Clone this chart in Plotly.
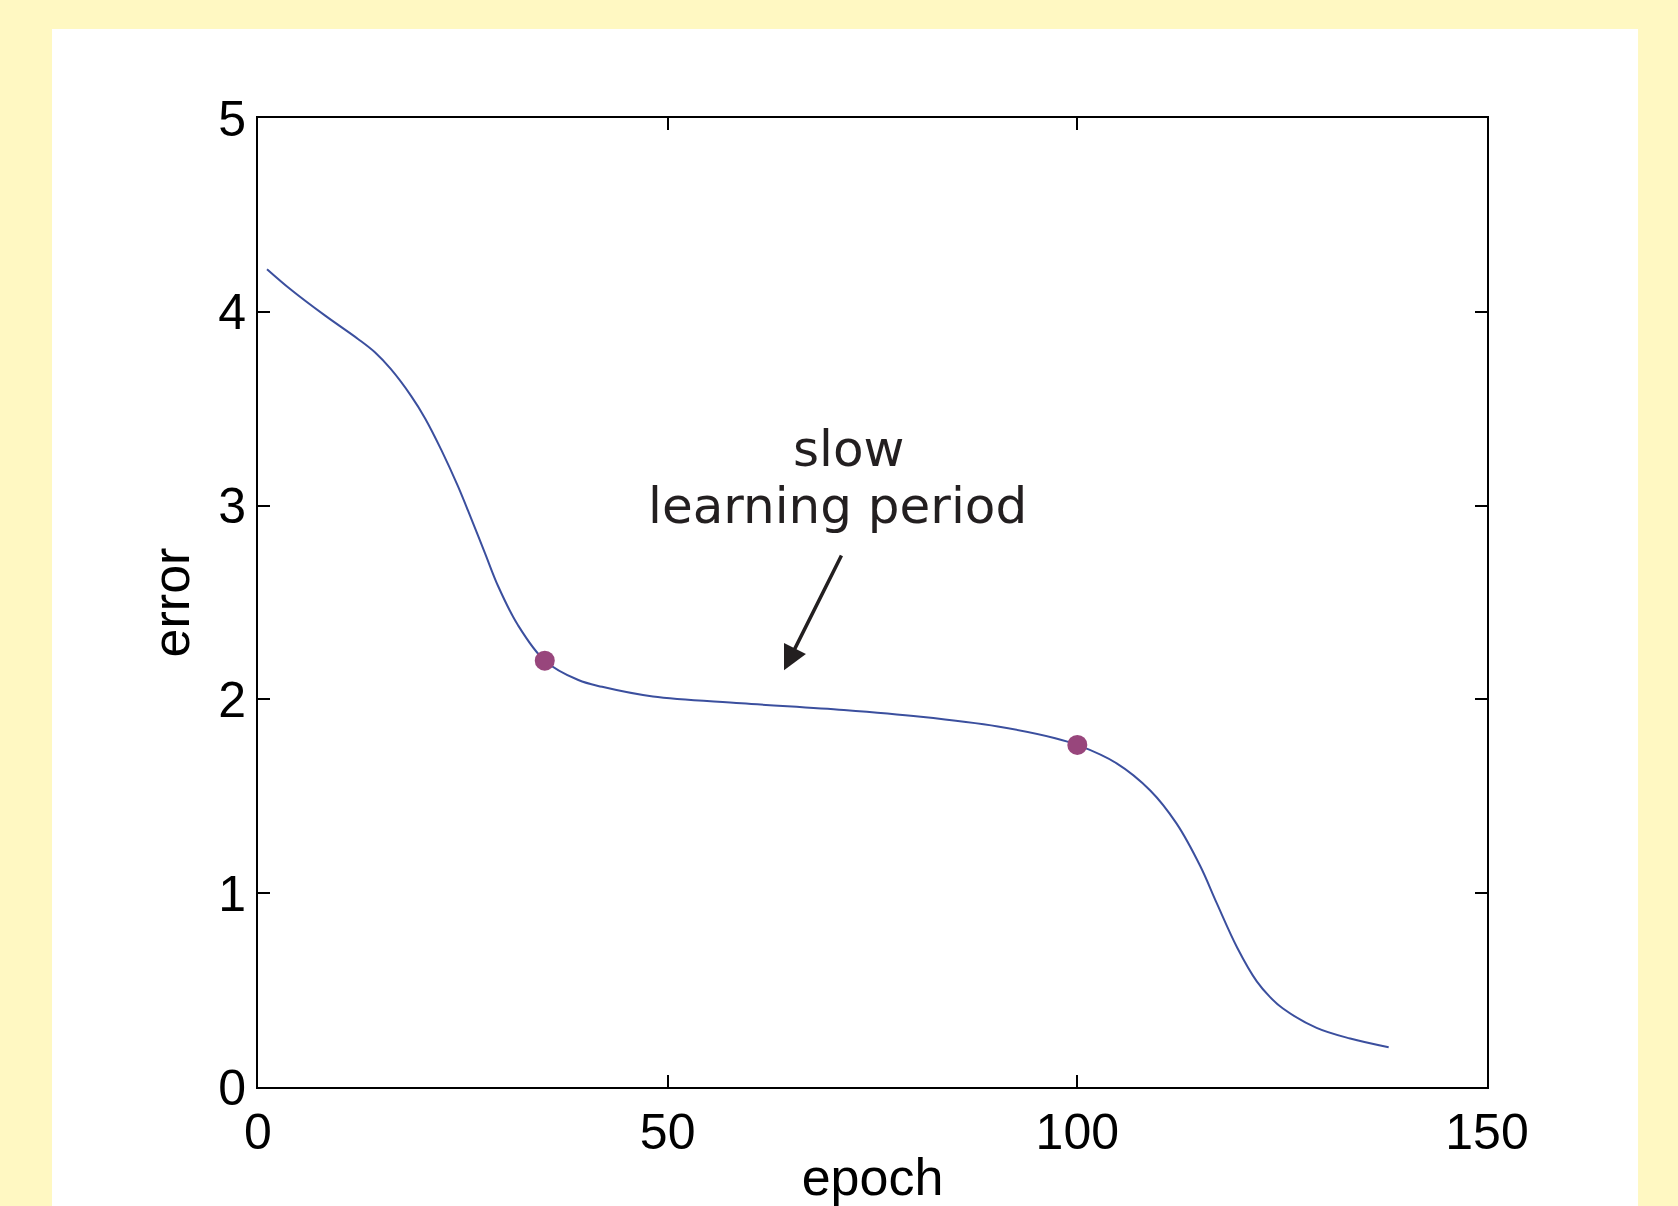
import plotly.graph_objects as go

# ---- data ----
epoch = [1.1, 4.0, 8.2, 12.2, 14.3, 16.2, 18.7, 20.4, 22.4, 24.4, 26.0, 27.7, 29.3, 31.7,
         35.0, 39.1, 42.0, 48.2, 59.0, 71.5, 80.9, 90.3, 97.3, 100.0, 104.8, 108.9,
         112.1, 115.0, 117.0, 119.5, 121.9, 123.5, 125.1, 129.2, 133.3, 138.0]
error = [4.22, 4.115, 3.98, 3.86, 3.79, 3.705, 3.565, 3.45, 3.285, 3.10, 2.935, 2.755, 2.585, 2.385,
         2.20, 2.10, 2.065, 2.015, 1.98, 1.945, 1.91, 1.86, 1.80, 1.765, 1.67, 1.53,
         1.36, 1.14, 0.95, 0.72, 0.545, 0.465, 0.405, 0.305, 0.25, 0.205]

marker_epoch = [35.0, 100.0]
marker_error = [2.20, 1.765]

x_ticks = [0, 50, 100, 150]
x_tick_labels = ["0", "50", "100", "150"]
y_ticks = [0, 1, 2, 3, 4, 5]
y_tick_labels = ["0", "1", "2", "3", "4", "5"]

label_line1 = "slow"
label_line2 = "learning period"

FONT = "Liberation Sans"
TXT = "#231f20"

fig = go.Figure()
fig.add_trace(go.Scatter(
    x=epoch, y=error, mode="lines",
    line=dict(color="#3b4f9e", width=2, shape="spline", smoothing=1.0),
    hoverinfo="skip", showlegend=False,
))
fig.add_trace(go.Scatter(
    x=marker_epoch, y=marker_error, mode="markers",
    marker=dict(color="#98467c", size=20),
    showlegend=False,
))

axis_common = dict(
    showline=True, linecolor="black", linewidth=2, mirror="ticks",
    ticks="inside", ticklen=12, tickwidth=2, tickcolor="black",
    showgrid=False, zeroline=False, automargin=False,
    tickfont=dict(family=FONT, size=50, color="black"),
)

fig.update_xaxes(range=[0, 150], tickvals=x_ticks, ticktext=x_tick_labels,
                 title=dict(text="epoch", font=dict(family=FONT, size=52, color="black"), standoff=8),
                 **axis_common)
fig.update_yaxes(range=[0, 5], tickvals=y_ticks, ticktext=y_tick_labels,
                 title=dict(text="error", font=dict(family=FONT, size=52, color="black"), standoff=12),
                 **axis_common)

# white card on a pale yellow background
fig.add_shape(type="rect", xref="paper", yref="paper",
              x0=-0.1676, x1=1.1229, y0=-0.25, y1=1.0918,
              fillcolor="white", line=dict(width=0), layer="below")

fig.add_annotation(x=72.1, y=3.29, xref="x", yref="y", text=label_line1, showarrow=False,
                   font=dict(family="DejaVu Sans", size=50, color=TXT),
                   xanchor="center", yanchor="middle")
fig.add_annotation(x=70.7, y=3.0, xref="x", yref="y", text=label_line2, showarrow=False,
                   font=dict(family="DejaVu Sans", size=50, color=TXT),
                   xanchor="center", yanchor="middle")
fig.add_annotation(x=64.2, y=2.15, xref="x", yref="y", ax=71.3, ay=2.75, axref="x", ayref="y",
                   text="", showarrow=True, arrowhead=2, arrowsize=1.4, arrowwidth=3.5,
                   arrowcolor=TXT, standoff=0, startstandoff=0)

fig.update_layout(
    width=1678, height=1206,
    margin=dict(l=258, r=191, t=118, b=119, pad=0),
    paper_bgcolor="#fff8c2",
    plot_bgcolor="white",
    showlegend=False,
)

fig.write_html("out.html")
